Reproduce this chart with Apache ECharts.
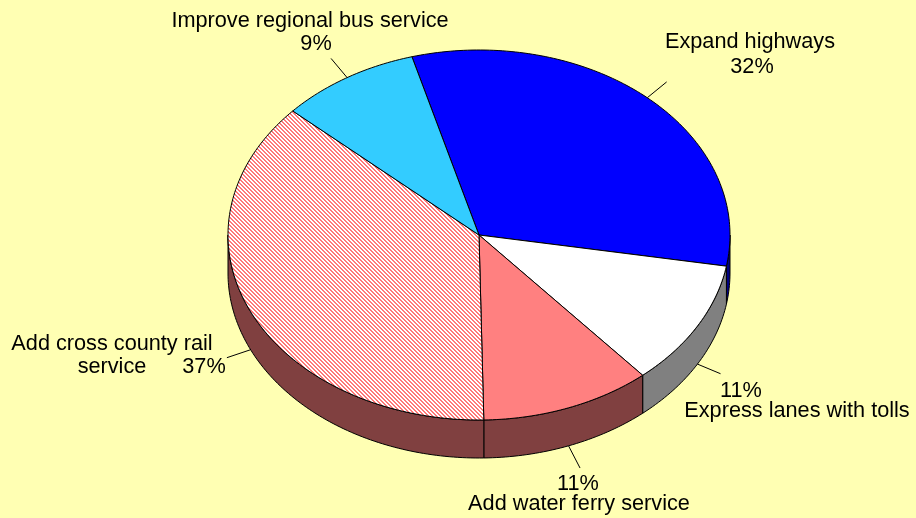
<!DOCTYPE html>
<html>
<head>
<meta charset="utf-8">
<script src="https://cdn.jsdelivr.net/npm/echarts@6/dist/echarts.min.js"></script>
<style>
  html, body { margin: 0; padding: 0; background: #FFFFB3; }
  #main { width: 916px; height: 518px; }
</style>
</head>
<body>
<div id="main"></div>
<script>
// data
var categories = ['Expand highways', 'Express lanes with tolls', 'Add water ferry service', 'Add cross county rail service', 'Improve regional bus service'];
var values = [32, 11, 11, 37, 9];

// colours of the top face and of the visible side wall
var topColors = ['#0000FF', '#FFFFFF', '#FF8080', 'hatch', '#33CCFF'];
var sideColors = ['#000080', '#808080', '#804040', '#804040', '#1A6680'];

// pie geometry (pixels)
var CX = 479, CY = 235, RX = 251, RY = 185, DEPTH = 38, START = -105.5, LEADER = 25;

// label lines: [text, x, baseline] ; {p} is the percent
var labelLayout = [
  [['Expand highways', 750, 48], ['{p}', 752, 73]],
  [['{p}', 741, 397], ['Express lanes with tolls', 797, 417]],
  [['{p}', 578, 490], ['Add water ferry service', 579, 510]],
  [['Add cross county rail', 112, 350], ['service', 112, 373], ['{p}', 204, 373]],
  [['Improve regional bus service', 310, 27], ['{p}', 316, 50]]
];
var FONT_SIZE = 21.7;

// hatch pattern for the rail slice
var hatch = document.createElement('canvas');
hatch.width = 4; hatch.height = 4;
var hc = hatch.getContext('2d');
hc.fillStyle = '#FFFFFF';
hc.fillRect(0, 0, 4, 4);
hc.fillStyle = '#FF7878';
for (var k = 0; k < 4; k++) {
  hc.fillRect(k, k, 1, 1);
  hc.fillRect((k + 1) % 4, k, 1, 1);
}

var total = values.reduce(function (a, b) { return a + b; }, 0);

function pt(a, dy) {
  var r = a * Math.PI / 180;
  return [CX + RX * Math.cos(r), CY + RY * Math.sin(r) + (dy || 0)];
}
function arc(a0, a1, dy) {
  var pts = [];
  var n = Math.max(2, Math.ceil(Math.abs(a1 - a0)));
  for (var j = 0; j <= n; j++) pts.push(pt(a0 + (a1 - a0) * j / n, dy));
  return pts;
}

function renderItem(params, api) {
  var i = params.dataIndex;
  var cum = 0;
  for (var j = 0; j < i; j++) cum += values[j];
  var a0 = START + cum / total * 360;
  var a1 = a0 + api.value(0) / total * 360;
  var children = [];

  // side wall: front half only (0..180 deg)
  var s = Math.max(a0, 0), e = Math.min(a1, 180);
  if (e > s) {
    var sidePts = arc(s, e, 0).concat(arc(e, s, DEPTH));
    children.push({
      type: 'polygon',
      shape: { points: sidePts },
      style: { fill: sideColors[i], stroke: '#000', lineWidth: 1 }
    });
  }

  // top face
  var topPts = [[CX, CY]].concat(arc(a0, a1, 0));
  var fill = topColors[i] === 'hatch' ? { image: hatch, repeat: 'repeat' } : topColors[i];
  children.push({
    type: 'polygon',
    shape: { points: topPts },
    style: { fill: fill, stroke: '#000', lineWidth: 1 }
  });

  // leader line
  var m = (a0 + a1) / 2;
  var mr = m * Math.PI / 180;
  var front = Math.sin(mr) > 0;
  var p0 = pt(m, front ? DEPTH : 0);
  var dx = RX * Math.cos(mr), dyv = RY * Math.sin(mr);
  var len = Math.sqrt(dx * dx + dyv * dyv);
  var p1 = [p0[0] + dx / len * LEADER, p0[1] + dyv / len * LEADER];
  children.push({
    type: 'line',
    shape: { x1: p0[0], y1: p0[1], x2: p1[0], y2: p1[1] },
    style: { stroke: '#000', lineWidth: 1 }
  });

  // labels (baseline ~ bottom minus descent)
  var pct = Math.round(api.value(0) / total * 100) + '%';
  labelLayout[i].forEach(function (l) {
    children.push({
      type: 'text',
      x: l[1], y: l[2] + Math.round(FONT_SIZE * 0.21),
      style: {
        text: l[0].replace('{p}', pct),
        fill: '#000',
        font: FONT_SIZE + 'px "Liberation Sans", Arial, sans-serif',
        align: 'center',
        verticalAlign: 'bottom'
      }
    });
  });

  return { type: 'group', children: children };
}

var myChart = echarts.init(document.getElementById('main'));
var option = {
  backgroundColor: '#FFFFB3',
  animation: false,
  series: [{
    type: 'custom',
    coordinateSystem: 'none',
    renderItem: renderItem,
    data: values.map(function (v, i) { return { name: categories[i], value: [v] }; })
  }]
};
myChart.setOption(option);
</script>
</body>
</html>
